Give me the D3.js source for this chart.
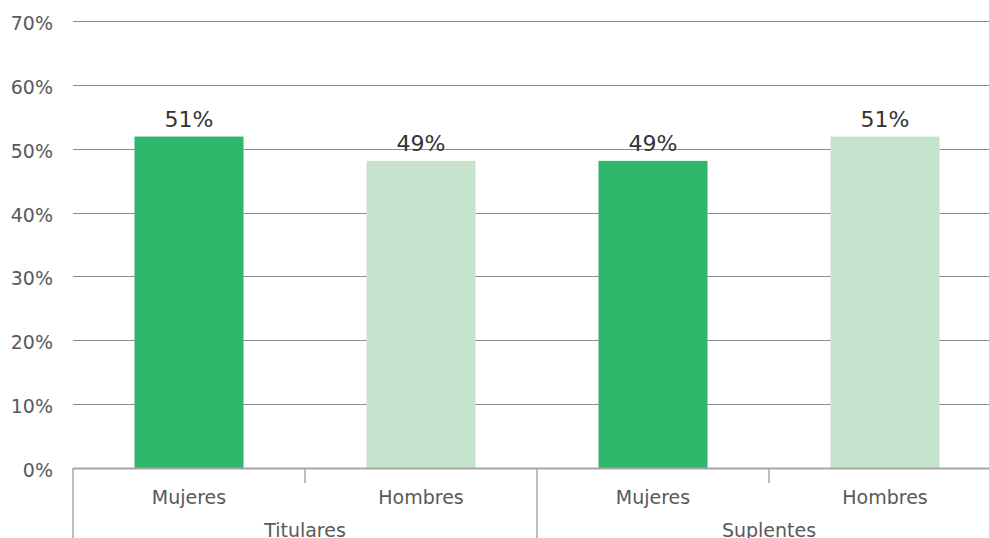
<!DOCTYPE html>
<html><head><meta charset="utf-8">
<script src="https://cdn.jsdelivr.net/npm/d3@7"></script>
<style>html,body{margin:0;padding:0;background:#fff;overflow:hidden}</style>
</head><body>
<svg id="c" width="989" height="538"></svg>
<script>
const groups = ["Titulares", "Suplentes"];
const categories = ["Mujeres", "Hombres", "Mujeres", "Hombres"];
const categoryGroup = ["Titulares", "Titulares", "Suplentes", "Suplentes"];
const values = [51.9, 48.1, 48.1, 51.9];
const valueLabels = ["51%", "49%", "49%", "51%"];
const yTicks = [0, 10, 20, 30, 40, 50, 60, 70];

(function () {
const svg = d3.select("#c");
const font = "'DejaVu Sans', Verdana, sans-serif";
const pLeft = 73, pRight = 1001, pTop = 21, pBottom = 468;

const x = d3.scaleBand().domain(d3.range(categories.length)).range([pLeft, pRight])
  .paddingInner(0.53).paddingOuter(0.265);
const xs = d3.scaleBand().domain(d3.range(categories.length)).range([pLeft, pRight]);
const xg = d3.scaleBand().domain(groups).range([pLeft, pRight]);
const y = d3.scaleLinear().domain([0, 70]).range([pBottom, pTop]);

// gridlines
svg.append("g").selectAll("line").data(yTicks.filter(d => d > 0)).join("line")
  .attr("x1", pLeft).attr("x2", 989)
  .attr("y1", d => Math.round(y(d)) + 0.5).attr("y2", d => Math.round(y(d)) + 0.5)
  .attr("stroke", "#8c8c8c").attr("stroke-width", 1);

// y labels
svg.append("g").selectAll("text").data(yTicks).join("text")
  .attr("x", 53).attr("y", d => y(d) + 9)
  .attr("text-anchor", "end").attr("font-family", font).attr("font-size", 19)
  .attr("fill", "#595959").text(d => d + "%");

// bars
svg.append("g").selectAll("rect").data(values).join("rect")
  .attr("x", (d, i) => x(i)).attr("width", x.bandwidth())
  .attr("y", d => y(d)).attr("height", d => y(0) - y(d))
  .attr("fill", (d, i) => categories[i] === "Mujeres" ? "#2eb66b" : "#c6e4cd");

// value labels
svg.append("g").selectAll("text").data(values).join("text")
  .attr("x", (d, i) => x(i) + x.bandwidth() / 2).attr("y", d => y(d) - 10)
  .attr("text-anchor", "middle").attr("font-family", font).attr("font-size", 22)
  .attr("fill", "#333333").text((d, i) => valueLabels[i]);

// x axis line
svg.append("line").attr("x1", pLeft).attr("x2", 989).attr("y1", pBottom + 0.5).attr("y2", pBottom + 0.5)
  .attr("stroke", "#a6a6a6").attr("stroke-width", 2);

// category ticks inside groups
const innerTicks = d3.range(1, categories.length).filter(i => categoryGroup[i] === categoryGroup[i - 1]);
svg.append("g").selectAll("line").data(innerTicks).join("line")
  .attr("x1", i => xs(i)).attr("x2", i => xs(i)).attr("y1", pBottom).attr("y2", pBottom + 15)
  .attr("stroke", "#a6a6a6").attr("stroke-width", 1.5);

// group separators
svg.append("g").selectAll("line").data(groups).join("line")
  .attr("x1", g => xg(g)).attr("x2", g => xg(g)).attr("y1", pBottom).attr("y2", 538)
  .attr("stroke", "#a6a6a6").attr("stroke-width", 1.5);

// category labels
svg.append("g").selectAll("text").data(categories).join("text")
  .attr("x", (d, i) => xs(i) + xs.bandwidth() / 2).attr("y", 504)
  .attr("text-anchor", "middle").attr("font-family", font).attr("font-size", 19)
  .attr("fill", "#595959").text(d => d);

// group labels
svg.append("g").selectAll("text").data(groups).join("text")
  .attr("x", g => xg(g) + xg.bandwidth() / 2).attr("y", 537)
  .attr("text-anchor", "middle").attr("font-family", font).attr("font-size", 19)
  .attr("fill", "#595959").text(d => d);
})();
</script>
</body></html>
